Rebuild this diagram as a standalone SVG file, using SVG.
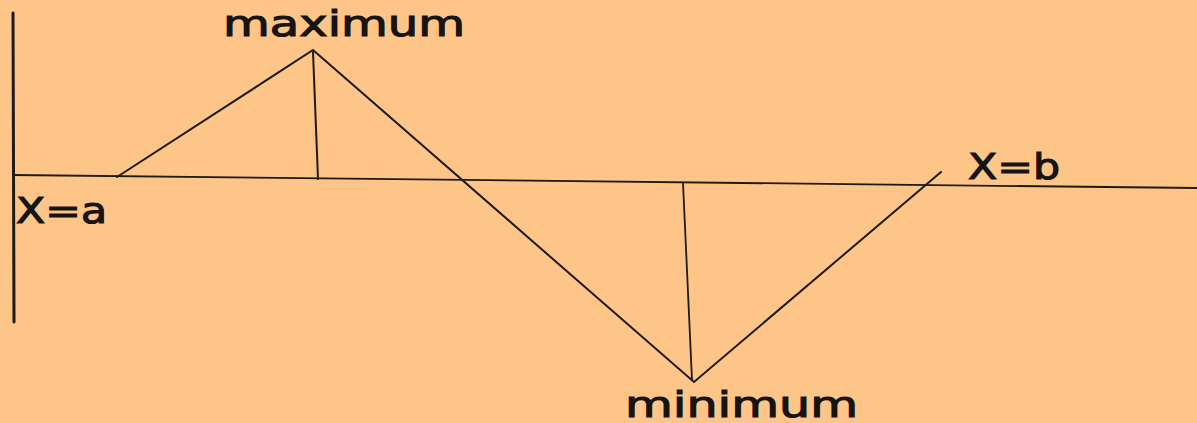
<svg xmlns="http://www.w3.org/2000/svg" width="1197" height="423" viewBox="0 0 1197 423">
<style>
.ln{stroke:#1e1a16;fill:none;stroke-linecap:round}
.t{font-family:"DejaVu Sans","Verdana",sans-serif;fill:#161310;stroke:#161310;stroke-width:1.1;font-size:36px}
</style>
<rect width="1197" height="423" fill="#FDC587"/>
<g id="axes">
<line class="ln" x1="13" y1="13" x2="14" y2="322" stroke-width="3"/>
<line class="ln" x1="13" y1="175" x2="1197" y2="188" stroke-width="1.8"/>
</g>
<g id="connectors">
<polyline class="ln" points="117,177 313,50 694,382 941,172" stroke-width="2"/>
<line class="ln" x1="313" y1="52" x2="318" y2="179" stroke-width="2"/>
<line class="ln" x1="683" y1="183" x2="692" y2="380" stroke-width="1.8"/>
</g>
<g id="labels">
<text class="t" x="223" y="36" textLength="242" lengthAdjust="spacingAndGlyphs">maximum</text>
<text class="t" x="16" y="223" textLength="91" lengthAdjust="spacingAndGlyphs">X=a</text>
<text class="t" x="968" y="179" textLength="92" lengthAdjust="spacingAndGlyphs">X=b</text>
<text class="t" x="625" y="417" textLength="233" lengthAdjust="spacingAndGlyphs">minimum</text>
</g>
</svg>
